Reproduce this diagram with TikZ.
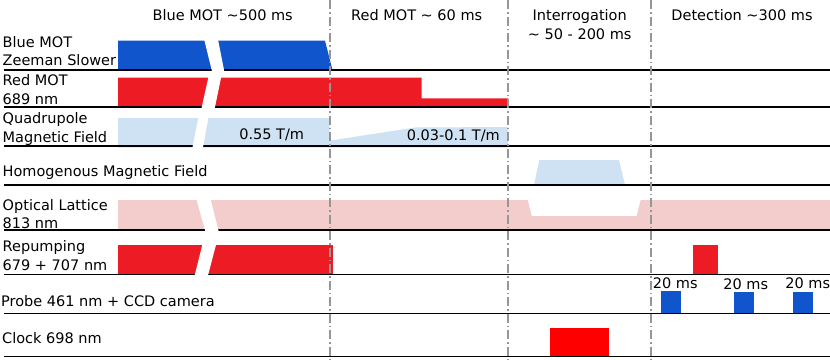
\documentclass[tikz,border=0pt]{standalone}
\usepackage{fontspec}
\setmainfont{DejaVu Sans}
\definecolor{mblue}{RGB}{17,85,204}
\definecolor{mred}{RGB}{237,28,36}
\definecolor{lblue}{RGB}{207,226,243}
\definecolor{lpink}{RGB}{243,204,204}
\definecolor{cred}{RGB}{255,0,0}
\definecolor{dgray}{RGB}{150,150,150}
\begin{document}
\begin{tikzpicture}[x=1pt,y=-1pt,
  font=\fontsize{14.5}{18}\selectfont,
  lbl/.style={inner sep=0pt, anchor=base west},
  hdr/.style={inner sep=0pt, anchor=base},
  baseln/.style={line width=1.6pt, black},
  sep/.style={line width=1.2pt, dgray, dash pattern=on 9pt off 3pt on 1.5pt off 3pt},
  gap/.style={fill=white, draw=none}]
\useasboundingbox (0,0) rectangle (830,359);
% ---- fills
\fill[mblue] (118,40.7) -- (325,40.7) -- (332.5,70) -- (118,70) -- cycle;
\fill[mred] (118,77.7) -- (421.5,77.7) -- (421.5,98.3) -- (508,98.3) -- (508,107) -- (118,107) -- cycle;
\fill[lblue] (118,118) -- (329.5,118) -- (329.5,140.7) -- (415,127.5) -- (508,127) -- (508,147.5) -- (118,147.5) -- cycle;
\fill[lblue] (534,185) -- (539.3,160) -- (619,160) -- (625,185) -- cycle;
\fill[lpink] (118,200) -- (527.7,200) -- (531.7,216) -- (636.7,216) -- (640.7,200) -- (830,200) -- (830,230) -- (118,230) -- cycle;
\fill[mred] (118,245) rectangle (332.7,274);
\fill[mred] (692.7,245) rectangle (718.3,274);
\fill[mblue] (660.5,290.7) rectangle (680.7,313);
\fill[mblue] (734.3,292.3) rectangle (754.3,313);
\fill[mblue] (793.3,292.3) rectangle (813.3,313);
\fill[cred] (549.7,327.7) rectangle (609,356);
% ---- baselines
\foreach \yy in {70,107,145.7,185,230,274.3,313.3,356.5}
  \draw[baseln] (4,\yy) -- (830,\yy);
% ---- breaks
\fill[gap] (203.8,38) -- (217.7,38) -- (224.5,72.5) -- (212.3,72.5) -- cycle;
\fill[gap] (208.8,75.5) -- (221.5,75.5) -- (214.6,109) -- (201.3,109) -- cycle;
\fill[gap] (198.7,116) -- (208.7,116) -- (202.7,149) -- (192.1,149) -- cycle;
\fill[gap] (196.1,198) -- (210.2,198) -- (219,232.5) -- (205.7,232.5) -- cycle;
\fill[gap] (202.8,243) -- (216.5,243) -- (207.7,276.5) -- (194.4,276.5) -- cycle;
% ---- phase separators
\coordinate (s1t) at (330,0);   \coordinate (s1b) at (330,359);
\coordinate (s2t) at (508,0);   \coordinate (s2b) at (508,359);
\coordinate (s3t) at (651,0);   \coordinate (s3b) at (651,359);
\draw[sep] (s1t) -- (s1b);
\draw[sep] (s2t) -- (s2b);
\draw[sep] (s3t) -- (s3b);
% ---- headers
\node[hdr] (h1) at (222.7,20.3) {Blue MOT \textasciitilde500 ms};
\node[hdr] (h2) at (416.7,20.3) {Red MOT \textasciitilde{} 60 ms};
\node[hdr] (h3) at (579.7,20.3) {Interrogation};
\node[hdr] (h3b) at (579.7,39) {\textasciitilde{} 50 - 200 ms};
\node[hdr] (h4) at (742,20.3) {Detection \textasciitilde300 ms};
% ---- row labels
\node[lbl] (r1a) at (2.5,47) {Blue MOT};
\node[lbl] (r1b) at (2.5,65) {Zeeman Slower};
\node[lbl] (r2a) at (2.5,85) {Red MOT};
\node[lbl] (r2b) at (2.5,104) {689 nm};
\node[lbl] (r3a) at (2.5,123.5) {Quadrupole};
\node[lbl] (r3b) at (2.5,142) {Magnetic Field};
\node[lbl] (r4) at (2.5,176.7) {Homogenous Magnetic Field};
\node[lbl] (r5a) at (2.5,210) {Optical Lattice};
\node[lbl] (r5b) at (2.5,228.3) {813 nm};
\node[lbl] (r6a) at (2.5,251.7) {Repumping};
\node[lbl] (r6b) at (2.5,270) {679 + 707 nm};
\node[lbl] (r7) at (1,306) {Probe 461 nm + CCD camera};
\node[lbl] (r8) at (2,343.3) {Clock 698 nm};
% ---- value labels
\node[hdr] (q1) at (271.7,139.3) {0.55 T/m};
\node[hdr] (q2) at (453.3,140.5) {0.03-0.1 T/m};
\node[hdr] (p1) at (675.3,288.3) {20 ms};
\node[hdr] (p2) at (745.8,289.3) {20 ms};
\node[hdr] (p3) at (807.8,288.3) {20 ms};
\end{tikzpicture}
\end{document}
